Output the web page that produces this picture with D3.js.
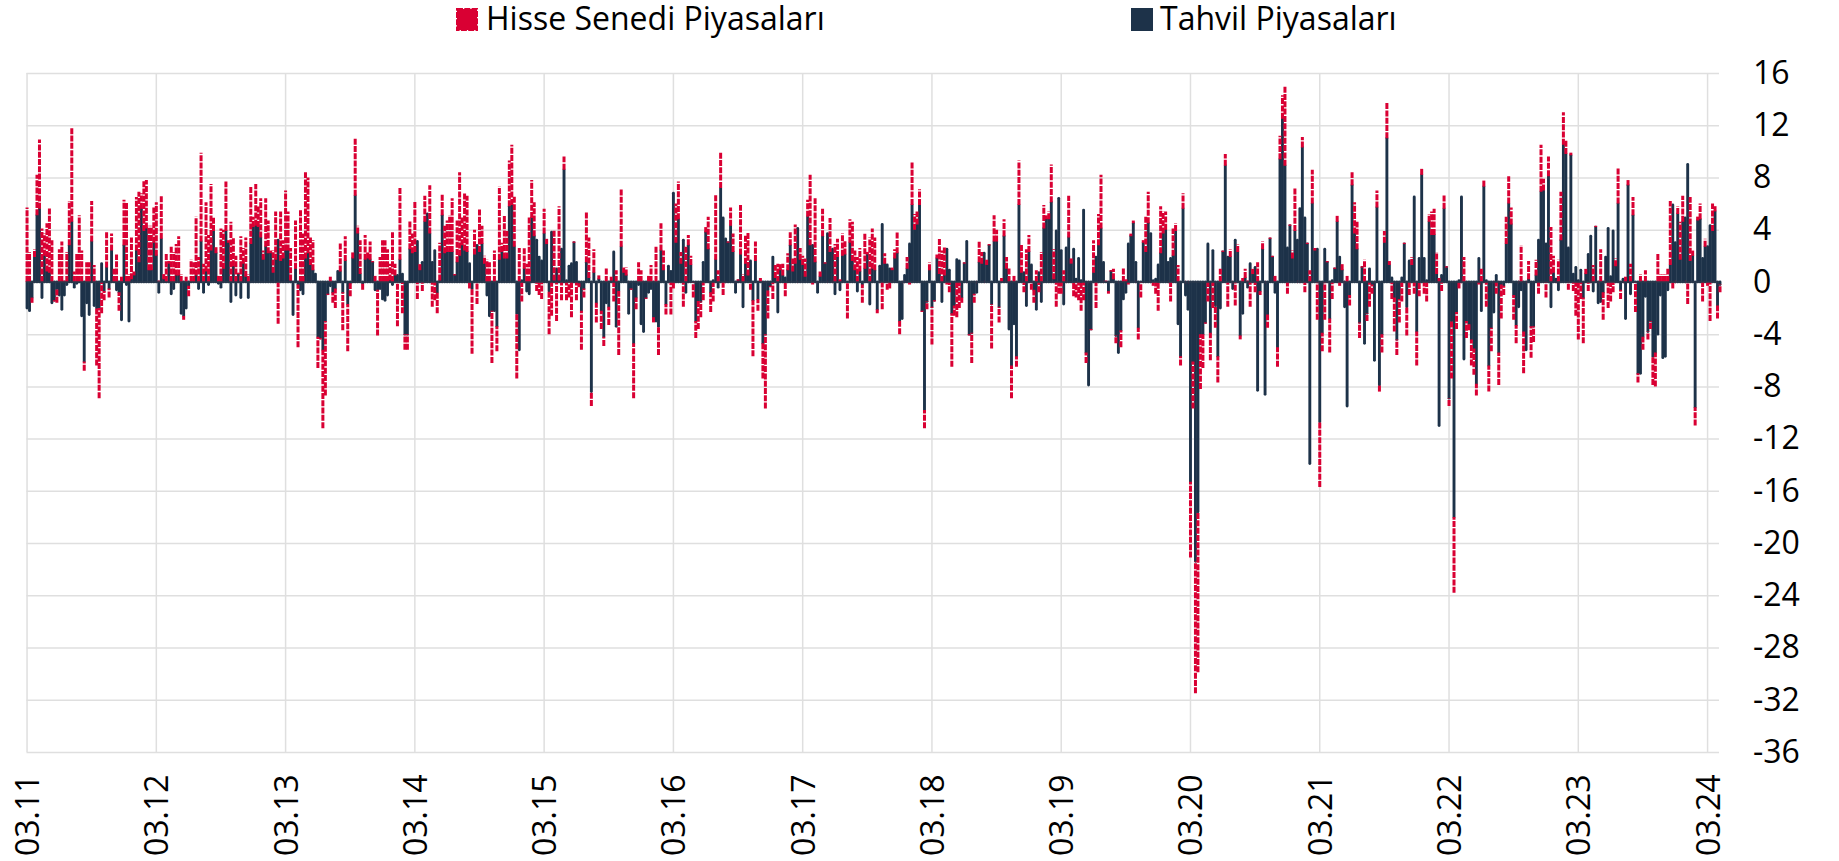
<!DOCTYPE html>
<html>
<head>
<meta charset="utf-8">
<script src="https://cdn.jsdelivr.net/npm/d3@7"></script>
<style>
  html, body { margin: 0; padding: 0; background: #fff; }
  text { font-family: "Open Sans", sans-serif; fill: #000; }
</style>
</head>
<body>
<svg id="chart" width="1839" height="861"></svg>
<script>
// haftalik veriler, her satir bir yil (mart - mart)
const tahvil = [
  -2,-2.2,-1.2,1.9,5.1,5.6,-1.2,2,.8,.7,-1.6,-1.4,-.5,-1,-2.1,-1,-.2,2.8,4.6,-.4,-.1,0,-2.6,-6.1,-1.6,-2.5,3.1,-1.8,-2,-2,1.4,-.7,1.1,-.5,2.4,0,-.6,-.8,-2.9,2.8,-.2,-3,.2,.5,2.4,1.5,5.6,3.9,4.1,.9,.9,3,
  2,-.8,3.3,.2,0,1.4,-.9,-.5,.5,.5,-2.4,-2.6,-2,-.3,0,0,.5,-.5,3.1,-.8,.8,-.2,2.4,3.9,2.2,-.1,-.4,1,3.9,3,-1.5,1.2,-1,.6,-1.2,1.4,.4,-1.2,2.9,4.2,4.3,4.2,3.4,1.7,2.7,2.2,2.2,.7,1.7,3.2,1.6,1.8,
  2.4,2.4,.1,-2.5,1,-.2,-.6,-.9,1.8,2.2,1.3,.9,.6,-4.2,-4.3,-5.2,-3,-.9,-.3,-.8,-.5,.8,.8,-.8,1.6,-1.7,-.1,1.8,6.6,3.7,.6,-.1,1.7,1.8,1.7,1.5,-.6,-.6,-.5,-1.3,-1.4,-1,.1,-.2,.5,.5,1.7,.6,-4,-4,2.5,2.2,
  2.3,3.1,.9,1.5,4.6,5.2,3.7,1.5,2.4,-.8,.1,5.1,2.2,2.3,2.3,2.3,.5,1.5,2,2.8,2.4,2.3,1.4,-.5,2.1,2.8,2.3,2.9,1.4,-1,-2.6,-2.2,-2.2,-3.4,1.7,2.3,1.8,1.8,5.8,5.9,2.7,-2.4,-5.2,.1,1,-.7,-.9,4.9,3.5,3.2,1.9,1.6,
  3.7,2.9,-.7,3.8,.1,1,.1,2.5,8.6,.1,1.2,1.4,3,1.5,-.1,-2.2,-.5,1.5,.3,-8.4,.7,-1.6,.2,-2.2,-4.2,-1.6,-1.9,.1,2.3,-3.4,-.7,2.7,.7,.5,-2.4,-.5,-4.7,-1.2,-.2,-3.2,-3.8,-1.2,-.8,-.5,-2.7,-3,-3.4,2.4,.9,-1.7,1.2,.8,
  6.8,3,4.8,1.4,3.2,-.8,2.8,1.3,0,-3,-1.4,-1.5,1.5,3.8,2.5,-.8,.1,1.7,-.4,7.2,4.9,3.3,3,4.3,2.3,-.8,.1,2.1,-1.9,1.4,.5,1.6,-1.4,1.6,-1.3,0,-4.7,-4,-.6,-.3,1.9,.3,-2.3,.9,.5,.3,.9,2.8,.8,1.4,4.1,1.7,
  1.3,.4,5,2.8,2.8,1.5,-.8,.4,3.5,1.4,3.7,2.3,2.5,-.9,1.9,-.6,2,2.1,0,3,1.6,.9,-.7,.8,-.2,1,2.1,-1.7,1,.9,-2.1,1.2,4.4,1.4,1.3,1,.9,1.8,2.2,-3,-2.8,.5,1,2.9,5.9,4,4.4,5.9,-2.2,-9.8,-1.5,.9,
  -1.9,-1.4,1.8,.6,-1.5,.5,2.5,.9,-2.4,-1.8,1.7,1.6,-1.2,1.4,3.1,-4,-3.9,-.9,-.8,1.5,1.4,2.2,1.3,2.8,-1.7,3.1,3.1,-1.9,0,3.5,1,-3.6,-6.4,-3.2,-5.7,5.9,.7,.7,-1.8,2.3,1.3,-.6,-2.1,.7,-1.5,4.1,4.8,4.8,6.1,.2,3.9,6.4,
  2.4,-1.7,2.6,3.4,1.4,2.5,.2,1.8,.1,5.5,-5.4,-7.9,-3.6,.7,1.9,2.8,4.1,1.5,0,-.7,.8,.2,-4.1,-5.4,-3.7,-1.3,-.8,2.9,3.5,4.5,1.5,-3.5,0,3,2.3,4.5,3.7,.1,.2,1.3,2.2,3.7,4,1.5,1.8,2,3.9,-3.2,-5.7,5.6,-1,-2.1,
  -15.3,-6.1,-21.4,-17.6,-4,-4,-3.1,2.9,-3.9,2.4,-1.8,-5.7,-2,2.3,8.9,1.9,1.9,-.5,3.2,2.3,-4.1,-2.4,.3,-.4,1.4,.6,1.1,-8.3,-.7,2.5,-8.6,-2.5,3.3,1.9,-.8,-5,9.4,12.5,8.9,2.6,4.3,1.8,3.9,3.2,5.6,10.3,4.9,2.9,-13.9,6,2.4,2.5,
  -10.7,-3.9,2.5,1.5,-2.8,.1,1,4.6,1.9,.9,-1.9,-9.5,-1,7.4,3.7,2.5,-3.1,1.1,-4.7,-2.4,1,-.2,-6,5.7,-7.9,-4,3,11,1.3,.3,-1.2,-4.4,-1.3,.3,2.9,-1.9,1.6,1.3,6.5,-3.8,1.8,8.2,1.8,.1,4.6,3.6,3.6,.6,-11,.5,5.6,1.1,
  -8.9,-3,-18,-2.3,.1,6.5,-5.9,-3,-3.2,-4.4,-5.1,-7.8,1.8,-2.2,7.3,.1,-6.4,-3.5,-2.3,.5,-5.4,-.2,-.3,2.9,6,4.4,-1,-3.3,-1.9,-.6,-3.8,-5.2,.2,-3.4,-3.4,.5,3.2,6.9,7,2.9,8.1,-1.9,.7,.2,-.6,3.2,10.5,9.8,2.6,9.7,.6,1.1,
  .1,.9,-1.2,.6,2.1,3.5,-.7,4.2,-1.6,-1.5,-.8,1.9,4.1,.4,3.9,1.2,6,-.6,.2,-2.8,7.4,-.9,5.1,0,-7,-7,-4.2,-1.1,-3.8,-3,-5.7,-5.4,-4,-1,-5.8,-5.7,-.6,1.3,5.9,3,5.2,1.7,4.6,4.9,9,1.6,2,-9.6,4.7,4.8,1.8,2.7,
  2.7,4.3,3.9,5.4,-1.8,-.2
];
const hisse = [
  5.7,2.3,-.4,.6,3.1,5.3,4.1,1.7,3.7,5,3.2,-.1,-1.1,2.5,3.1,.1,2.3,3.4,7.2,.8,2.2,5.1,2.4,-.7,1.5,1.5,3.1,1.3,-4.4,-6.9,-2.4,-.7,2.8,-.7,1.3,1,2.1,-1.4,.4,3.5,6.1,.6,3.2,.3,4.1,5.4,1.2,3.9,3.7,3.4,3.4,2.7,
  4.1,.1,3.3,.4,2.2,.2,2.7,2.3,2.4,3,.6,-.3,.4,-.8,1.7,1.5,4.5,1.9,6.8,1.4,5.3,3.6,5.1,1.1,.5,.5,4.1,3,3.8,.2,4.6,2.2,2,.1,3.5,1.2,3,.6,4.4,.8,3.2,1.6,3,.7,3.7,2.5,.2,1.7,3.7,-3.2,3.8,1.4,
  4.6,3,2.5,0,3.7,-4.8,5.5,3.7,6.6,5.8,2.1,2.3,0,-2.4,-.1,-6,-5.7,-.1,.4,-.8,-1.5,0,2.2,-2.9,1.9,-3.6,-1,.5,4.4,.6,2.6,-.5,1.9,.5,1.4,.1,.5,-3.5,1.9,3.2,3.2,2.5,1.3,3.8,.9,-3.4,5.5,-2.4,-1.2,-1.2,2.2,1.5,
  3.9,-1.3,.5,-.7,2,0,3.7,-1.9,-1.4,-1.6,2.9,1.6,2.1,2.4,2.8,4.1,.1,3.2,6.4,2.2,4.4,4.3,-.5,-5,1.9,-1.7,3.3,1.4,.6,1.7,1.5,-4,2.4,-1.9,5.6,.7,3.3,2.1,3.5,4.6,3.9,-5,2.6,-1.5,1.6,1.4,5,2.9,2.6,-.7,-1,-1.3,
  1.9,.4,-3.3,-2.6,3.9,-3,5.7,-1.4,1,-1.4,-1.2,-2.7,.1,-1.4,-.3,-3,-.7,3.9,3.1,-1.1,1.8,-1.5,.3,-1.4,-.7,1.1,-1.4,.3,-1.5,.9,-4.9,4.4,.4,.6,0,-.1,-4.2,-.9,1.5,.9,0,-.1,.5,1.3,-.4,2.7,-2.2,2.1,1.5,-.8,0,-2.5,
  -.5,3,2.9,.9,-1.9,2.7,.8,.7,-1.2,-1.3,-2.2,-1.2,-1.4,.4,2.5,-1.5,-1.5,5,.9,2.7,-1,0,.1,1.4,1.4,0,.1,3.8,.6,2.2,3.3,-.6,-4.3,1.5,-.9,.3,-2.7,-5.7,-2.2,-.1,-1.3,1,1.4,.5,.9,-1.1,1.3,1,1,3,0,.9,
  .7,1.4,1.3,5.4,-.2,4.9,0,.4,2.1,.1,0,2.6,0,2.9,1.4,.2,1.7,1.1,-2.8,1.8,3,1.5,1.9,1.8,-1.4,2.8,.2,3.4,3.1,2.5,-.3,0,-2.1,.8,-.6,-.5,.2,.7,1.6,-1,0,0,.9,-.2,3.3,1.2,1,1.2,-.1,-1.4,-.6,.6,
  -2.9,-.1,.3,2.8,2.4,2.2,-.2,-.8,-4.1,-.8,-2.7,-2,-.4,.1,0,-.1,-2.3,-.7,0,1.6,.9,0,.4,.1,-3.4,2,.9,-1.2,.3,1.3,.9,1.1,-2.5,.5,-.8,3.4,2.2,-.8,2.5,1.3,-.6,-1,.9,-.8,2.3,1.8,.3,.6,2.9,2.3,-1.9,-.9,
  -.9,.9,0,3.2,.4,-1.1,-1.2,-1.4,-2.2,-1.4,-.8,0,-.1,2.5,-2,2.4,4.1,0,.1,-.2,.1,.8,-.6,0,-1.3,1.1,.2,-.2,.2,.2,0,-.9,-1.2,.2,2.7,2.4,0,-.3,-.9,-2.2,3.6,1.7,1.4,0,-1.5,2.1,.6,1.3,-.7,1.2,0,0,
  -5.8,-3.6,-10.1,-12.3,-4.2,-2.6,-.1,-1.5,-2.1,-2,-1.7,-2,1,.1,.9,-1.9,.6,0,-1.8,.6,-.3,.3,.7,.1,-1.9,.4,-.8,1.5,-.3,.6,0,-1,.1,.1,.5,-1.5,1.8,1.8,6.1,-.9,.1,.6,3.3,0,0,.8,-.8,.1,.9,2.6,.2,-2.9,
  -5,-1.4,-2.9,.1,-2.6,-1.3,.1,.5,-.3,.5,0,.5,-.8,1,2.4,2.1,-1.2,.1,1.7,-.6,-1.9,-.7,0,1.3,-.5,-1.4,.9,2.7,.3,-1.3,-2.6,-1.2,-1.8,-1.5,.1,-2.2,-1,.6,-.9,-2.6,-1.1,.5,-.9,-1.5,.6,1.8,2,1.7,.3,-.7,1.1,.1,
  -.6,-4.4,-5.8,-1.3,-.5,0,1.9,-1.3,-.5,-2,-2,-.9,-.2,1,.5,-1.9,-2,-1.8,0,-.9,-2.5,-2.6,-.7,2.1,2.1,1.3,-1.9,-1.4,0,2.8,-3.2,0,1.4,-2.4,-1.2,1.2,-.9,3.6,.9,-1.2,1.5,4.2,1.3,0,1.7,3.7,2.5,1.1,-.6,.2,-.7,-2.6,
  -4.4,-1.3,-3.5,.4,-.7,0,1.3,.1,0,2.5,-2.1,0,-2,-1.5,-.8,.6,2.7,-.7,0,.4,.4,1.4,1.4,-2.3,-.7,.6,-1,.9,-.6,-.6,-2.2,-2.6,2.2,.6,.6,.6,1,4.9,-.5,0,.6,2.9,2,0,-1.7,4.9,.4,-1.4,.3,1.2,-1.5,.6,
  -.3,-3,2.1,.4,-1,-.6
];
const yilEtiketleri = ["03.11","03.12","03.13","03.14","03.15","03.16","03.17","03.18","03.19","03.20","03.21","03.22","03.23","03.24"];
const yEtiketleri = [16,12,8,4,0,-4,-8,-12,-16,-20,-24,-28,-32,-36];

const renkHisse = "#d90033", renkTahvil = "#1d3249", renkGrid = "#dfdfdf";

const weeks = tahvil.map((d, i) => ({ i: i, tahvil: d, hisse: hisse[i] }));

const svg = d3.select("#chart");

const x = d3.scaleBand()
    .domain(weeks.map(d => d.i))
    .range([25.8, 25.8 + weeks.length * 2.486])
    .paddingInner(0);

const y = d3.scaleLinear().domain([-36, 16]).range([752, 73]);

// yatay grid + sag etiketler
const yAxis = d3.axisRight(y)
    .tickValues(yEtiketleri)
    .tickFormat(d => String(d))
    .tickSize(-(1719 - 26.5))
    .tickPadding(1753 - 1719);
svg.append("g")
    .attr("transform", "translate(1719,0)")
    .call(yAxis)
    .call(g => g.select(".domain").remove())
    .call(g => g.selectAll("line").attr("stroke", renkGrid).attr("stroke-width", 1.5))
    .call(g => g.selectAll("text").attr("font-size", 32).attr("text-anchor", "start").attr("fill", "#000"));

// dikey grid + yil etiketleri
const tickIdx = yilEtiketleri.map((d, k) => k * 52);
const xAxis = d3.axisBottom(x)
    .tickValues(tickIdx)
    .tickFormat((d, k) => yilEtiketleri[k])
    .tickSize(-(752 - 73));
svg.append("g")
    .attr("transform", "translate(0,752)")
    .call(xAxis)
    .call(g => g.select(".domain").remove())
    .call(g => g.selectAll("line").attr("stroke", renkGrid).attr("stroke-width", 1.5))
    .call(g => g.selectAll("text")
        .attr("font-size", 32)
        .attr("fill", "#000")
        .attr("text-anchor", "start")
        .attr("dy", null)
        .attr("y", null)
        .attr("transform", "translate(12,104) rotate(-90)"));

// yigilmis cubuklar
const stacked = d3.stack()
    .keys(["tahvil", "hisse"])
    .offset(d3.stackOffsetDiverging)(weeks);

const renkler = { tahvil: renkTahvil, hisse: renkHisse };

svg.append("g").selectAll("g")
    .data(stacked)
    .join("g")
    .attr("stroke", d => renkler[d.key])
    .attr("stroke-width", d => d.key == "hisse" ? 3 : 2.9)
    .attr("stroke-linecap", d => d.key == "hisse" ? "butt" : "round")
    .attr("stroke-dasharray", d => d.key == "hisse" ? "6,1.3" : null)
    .selectAll("line")
    .data(d => d)
    .join("line")
    .attr("x1", d => x(d.data.i) + x.bandwidth() / 2)
    .attr("x2", d => x(d.data.i) + x.bandwidth() / 2)
    .attr("y1", d => y(d[0]))
    .attr("y2", d => y(d[1]));

// sifir cizgisi
svg.append("line")
    .attr("x1", 26).attr("x2", 1719)
    .attr("y1", y(0)).attr("y2", y(0))
    .attr("stroke", "#2b3a4c")
    .attr("stroke-width", 1.5);

// lejant
const lejant = [
  { ad: "Hisse Senedi Piyasaları", renk: renkHisse, kx: 457, tx: 486, dash: "6,1.3" },
  { ad: "Tahvil Piyasaları", renk: renkTahvil, kx: 1132, tx: 1160, dash: null }
];
const lg = svg.append("g").selectAll("g").data(lejant).join("g");
lg.append("rect")
    .attr("x", d => d.kx).attr("y", 9)
    .attr("width", 20).attr("height", 21)
    .attr("fill", d => d.renk)
    .attr("stroke", d => d.renk)
    .attr("stroke-width", 2)
    .attr("stroke-dasharray", d => d.dash);
lg.append("text")
    .attr("x", d => d.tx).attr("y", 30)
    .attr("font-size", 32)
    .text(d => d.ad);
</script>
</body>
</html>
